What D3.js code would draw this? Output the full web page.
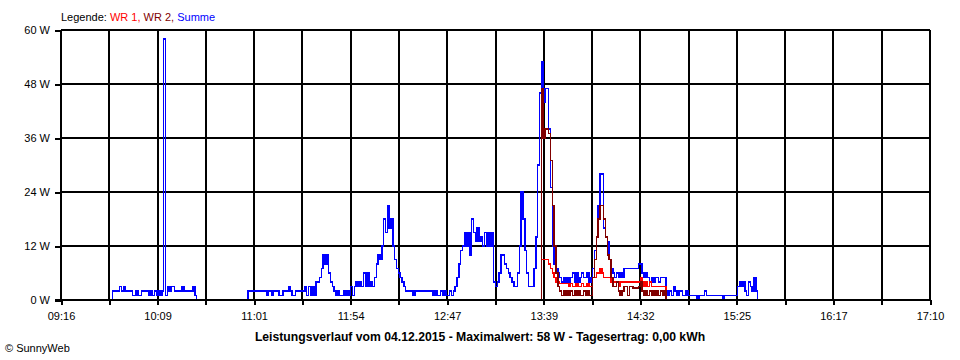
<!DOCTYPE html>
<html><head><meta charset="utf-8">
<script src="https://cdn.jsdelivr.net/npm/d3@7"></script>
<style>
body{margin:0;background:#fff}
svg{display:block}
text{font-family:"Liberation Sans",Arial,sans-serif}
</style>
</head><body>
<svg id="chart" width="960" height="360"></svg>
<script>
// ---------- data ----------
const xTickLabels = ["09:16","10:09","11:01","11:54","12:47","13:39","14:32","15:25","16:17","17:10"];
const yTickValues = [0, 12, 24, 36, 48, 60];
const legendPrefix = "Legende: ";
const legendLabels = ["WR 1,", " WR 2,", " Summe"];
const titleText = "Leistungsverlauf vom 04.12.2015 - Maximalwert: 58 W - Tagesertrag: 0,00 kWh";
const copyrightText = "\u00A9 SunnyWeb";

// Summe (W), one value per minute starting at summeStart
const summeStart = "09:43";
const summe = [
  0,2,2,2,2,3,2,3,2,2,
  2,2,1,1,2,1,1,2,2,2,
  2,1,2,1,2,1,2,1,2,58,
  1,3,2,3,3,2,2,2,2,3,
  2,2,2,2,2,3,1,0,0,0,
  0,0,0,0,0,0,0,0,0,0,
  0,0,0,0,0,0,0,0,0,0,
  0,0,0,0,0,2,2,2,2,2,
  2,2,2,2,2,1,2,2,1,2,
  2,2,1,1,2,2,2,3,2,1,
  1,2,2,2,2,2,3,1,3,1,
  3,1,4,4,5,7,10,8,10,6,
  4,3,2,1,2,1,1,2,1,2,
  1,3,1,3,4,3,4,3,6,3,
  6,3,4,3,5,8,10,9,12,18,
  15,21,16,18,12,9,7,6,5,4,
  3,2,2,2,2,1,2,2,2,2,
  2,2,2,2,2,2,1,2,1,1,
  2,1,2,1,1,2,1,2,3,5,
  8,11,12,15,12,15,10,18,15,13,
  16,13,14,12,15,12,15,12,15,4,
  3,4,6,10,10,8,7,6,5,4,
  3,3,6,12,24,18,11,6,3,3,
  3,7,14,30,46,53,44,47,47,38,
  25,12,8,7,6,5,4,5,4,5,
  4,5,6,4,6,4,5,6,5,5,
  6,4,5,7,11,14,21,28,28,16,
  14,13,9,7,6,5,6,5,6,5,
  7,7,7,7,7,7,7,7,8,8,
  6,5,6,5,4,5,4,5,5,4,
  5,5,5,2,1,2,1,3,2,1,
  2,2,1,1,2,1,1,1,1,1,
  0,1,1,1,2,1,1,1,1,1,
  1,1,1,1,0,1,1,1,1,1,
  1,1,3,4,3,4,2,1,4,3,
  2,5,2,0
];

// WR 1 and WR 2 (W), one value per minute starting at wrStart
const wrStart = "13:37";
const wr1 = [
  0,9,9,9,9,8,7,6,5,4,
  4,3.7,3.7,3.7,3.7,3.7,3,3.7,3,3,
  3.7,3,3,3.7,3,3,3.7,3,3,5,
  5,6,6,7,6,5,5,5,5,4,
  4,4,4,3,4,4,4,4,4,4,
  4,4,4,4,4,5,4,3,4,3,
  4,3,3,3,3,3,3,3,3,0
];
const wr2 = [
  0,47,36,38,38,37,31,21,12,6,
  3,2,1,2,1,2,1,2,1,2,
  1,2,1,1,2,1,2,1,1,5,
  9,14,18,21,21,18,14,10,9,5,
  3,3,4,2,1,2,3,3,1,3,
  3,2.7,2.7,2.7,3,4,2,1,2,1,
  2,1,2,1,2,1,2,1,2,0
];

(function(){
function toMin(s){ const p = s.split(":").map(Number); return p[0]*60 + p[1]; }
function series(start, vals){ const s0 = toMin(start); return vals.map((v,i)=>({t:s0+i, v:v})); }

const svg = d3.select("#chart");
const pL = 61, pR = 930, pT = 30, pB = 300;

const t0 = toMin(xTickLabels[0]), t1 = toMin(xTickLabels[xTickLabels.length-1]);
const x = d3.scaleLinear().domain([t0, t1]).range([pL, pR]);
const y = d3.scaleLinear().domain([0, 60]).range([pB, pT]);

const nDiv = (xTickLabels.length - 1) * 2;
const gridTimes = d3.range(nDiv + 1).map(k => t0 + k * (t1 - t0) / nDiv);

// grid
const grid = svg.append("g").attr("stroke", "#000").attr("stroke-width", 2).attr("shape-rendering", "crispEdges");
grid.selectAll("line.h").data(yTickValues).join("line").attr("class","h")
  .attr("x1", pL).attr("x2", pR).attr("y1", d => y(d)).attr("y2", d => y(d));
grid.selectAll("line.v").data(gridTimes).join("line").attr("class","v")
  .attr("y1", pT).attr("y2", pB).attr("x1", d => x(d)).attr("x2", d => x(d));

// axes
const xAxis = d3.axisBottom(x).tickValues(gridTimes).tickSizeInner(5).tickSizeOuter(0)
  .tickFormat((d, i) => i % 2 === 0 ? xTickLabels[i / 2] : "");
const gx = svg.append("g").attr("transform", `translate(0,${pB})`).call(xAxis);
gx.select(".domain").remove();
gx.selectAll(".tick line").attr("stroke", "#000").attr("stroke-width", 2).attr("shape-rendering", "crispEdges");
gx.selectAll(".tick text").attr("y", 20).attr("dy", 0).attr("font-size", 11)
  .attr("font-family", '"Liberation Sans",Arial,sans-serif').attr("fill", "#000");

const yAxis = d3.axisLeft(y).tickValues(yTickValues).tickSizeInner(6).tickSizeOuter(0).tickPadding(5)
  .tickFormat(d => d + " W");
const gy = svg.append("g").attr("transform", `translate(${pL},0)`).call(yAxis);
gy.select(".domain").remove();
gy.selectAll(".tick line").attr("stroke", "#000").attr("stroke-width", 2).attr("shape-rendering", "crispEdges");
gy.selectAll(".tick text").attr("dy", "0.35em").attr("font-size", 11)
  .attr("font-family", '"Liberation Sans",Arial,sans-serif').attr("fill", "#000");

// lines
const line = d3.line().x(d => x(d.t)).y(d => y(d.v)).curve(d3.curveStepAfter);
const colors = {summe: "#0000ff", wr1: "#ff0000", wr2: "#800000"};
const lines = svg.append("g").attr("fill", "none").attr("stroke-width", 1.5).attr("shape-rendering", "crispEdges");
lines.append("path").datum(series(summeStart, summe)).attr("d", line).attr("stroke", colors.summe);
lines.append("path").datum(series(wrStart, wr1)).attr("d", line).attr("stroke", colors.wr1);
lines.append("path").datum(series(wrStart, wr2)).attr("d", line).attr("stroke", colors.wr2);

// zero baseline drawn over the data
svg.append("line").attr("x1", pL - 6).attr("x2", pR).attr("y1", y(0)).attr("y2", y(0))
  .attr("stroke", "#000").attr("stroke-width", 2).attr("shape-rendering", "crispEdges");

// legend
const legendColors = [colors.wr1, colors.wr2, colors.summe];
const lg = svg.append("text").attr("x", 61).attr("y", 21).attr("font-size", 11).attr("fill", "#000");
lg.append("tspan").text(legendPrefix);
legendLabels.forEach((l, i) => lg.append("tspan").attr("fill", legendColors[i]).text(l));

// title & footer
svg.append("text").attr("x", 480).attr("y", 341).attr("text-anchor", "middle")
  .attr("font-size", 12.2).attr("font-weight", "bold").attr("fill", "#000").text(titleText);
svg.append("text").attr("x", 5).attr("y", 352).attr("font-size", 11).attr("fill", "#000").text(copyrightText);
})();
</script>
</body></html>
